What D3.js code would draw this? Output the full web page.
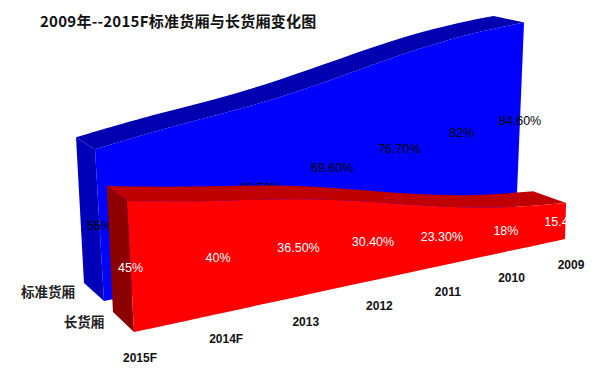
<!DOCTYPE html>
<html>
<head>
<meta charset="utf-8">
<script src="https://cdn.jsdelivr.net/npm/d3@7"></script>
<style>
  html, body { margin: 0; background: #fff; }
  text { font-family: "Liberation Sans", Arial, sans-serif; }
  .cjk { font-family: "Noto Sans CJK SC", sans-serif; font-weight: 700; }
</style>
</head>
<body>
<div id="chart"></div>
<script>
const categories = ['2015F', '2014F', '2013', '2012', '2011', '2010', '2009']
const standardValues = [55, 60, 63.5, 69.6, 76.7, 82, 84.6]
const longValues = [45, 40, 36.5, 30.4, 23.3, 18, 15.4]
const standardLabels = ['55%', '60%', '63.50%', '69.60%', '76.70%', '82%', '84.60%']
const longLabels = ['45%', '40%', '36.50%', '30.40%', '23.30%', '18%', '15.40%']

const width = 600
const height = 371

const svg = d3.select('#chart').append('svg')
  .attr('width', width)
  .attr('height', height)

// Category position along the depth axis, with perspective foreshortening
const tScale = d3.scalePoint().domain(categories).range([0, 1])
const K = 0.8
const persp = t => t / (t + K * (1 - t))

// A plane of the fake 3D box. Each one maps (category, percent) to the screen
function makePlane (x0, x1, y0, y1, u0, u1, lean0, lean1) {
  const xs = d3.scaleLinear().domain([0, 1]).range([x0, x1])
  const ys = d3.scaleLinear().domain([0, 1]).range([y0, y1])
  const us = d3.scaleLinear().domain([0, 1]).range([u0, u1])
  const leans = d3.scaleLinear().domain([0, 1]).range([lean0, lean1])
  return (cat, v) => {
    const s = persp(tScale(cat))
    return [xs(s) + leans(s) * v, ys(s) - us(s) * v]
  }
}

const blueFront = makePlane(104, 516, 301, 217, 2.76, 2.3, -0.164, 0.095)
const blueBack = makePlane(84, 486, 283, 202, 2.65, 2.2, -0.145, 0.09)
const redFront = makePlane(134, 565, 332, 239, 2.91, 2.34, -0.155, 0.07)
const redBack = makePlane(113, 532, 312, 226, 2.8, 2.25, -0.14, 0.07)

function drawSeries (values, labels, front, back, colors, labelColor) {
  const rows = categories.map((c, i) => ({ c, v: values[i], label: labels[i] }))
  const first = rows[0]

  // Left end of the slab
  const side = [back(first.c, 0), back(first.c, first.v), front(first.c, first.v), front(first.c, 0)]
  svg.append('path')
    .attr('d', d3.line()(side) + 'Z')
    .attr('fill', colors.side)

  // Top surface
  svg.append('path')
    .datum(rows)
    .attr('d', d3.area()
      .x0(d => back(d.c, d.v)[0])
      .y0(d => back(d.c, d.v)[1])
      .x1(d => front(d.c, d.v)[0])
      .y1(d => front(d.c, d.v)[1])
      .curve(d3.curveBasis))
    .attr('fill', colors.top)

  // Front face
  svg.append('path')
    .datum(rows)
    .attr('d', d3.area()
      .x0(d => front(d.c, 0)[0])
      .y0(d => front(d.c, 0)[1])
      .x1(d => front(d.c, d.v)[0])
      .y1(d => front(d.c, d.v)[1])
      .curve(d3.curveBasis))
    .attr('fill', colors.face)

  // Labels sit half way up the front face
  svg.selectAll(null)
    .data(rows)
    .join('text')
    .attr('x', d => front(d.c, d.v / 2)[0])
    .attr('y', d => front(d.c, d.v / 2)[1] + 5)
    .attr('text-anchor', 'middle')
    .attr('font-size', 12.5)
    .attr('fill', labelColor)
    .text(d => d.label)
}

drawSeries(standardValues, standardLabels, blueFront, blueBack,
  { face: '#0000ff', top: '#0000b0', side: '#0000b8' }, '#000')
drawSeries(longValues, longLabels, redFront, redBack,
  { face: '#ff0000', top: '#c00000', side: '#8c0000' }, '#fff')

// Category labels below the red front edge
svg.selectAll('.cat')
  .data(categories)
  .join('text')
  .attr('class', 'cat')
  .attr('x', d => redFront(d, 0)[0] + 6)
  .attr('y', d => redFront(d, 0)[1] + 30)
  .attr('text-anchor', 'middle')
  .attr('font-size', 12)
  .attr('font-weight', 700)
  .attr('fill', '#111')
  .text(d => d)

// Series labels
svg.append('text').attr('class', 'cjk')
  .attr('x', 48).attr('y', 297)
  .attr('text-anchor', 'middle')
  .attr('font-size', 13.5)
  .attr('fill', '#222')
  .text('标准货厢')
svg.append('text').attr('class', 'cjk')
  .attr('x', 84).attr('y', 327)
  .attr('text-anchor', 'middle')
  .attr('font-size', 13.5)
  .attr('fill', '#222')
  .text('长货厢')

// Title
svg.append('text').attr('class', 'cjk')
  .attr('x', 40).attr('y', 27)
  .attr('font-size', 15)
  .attr('letter-spacing', 0.25)
  .attr('fill', '#111')
  .text('2009年--2015F标准货厢与长货厢变化图')
</script>
</body>
</html>
